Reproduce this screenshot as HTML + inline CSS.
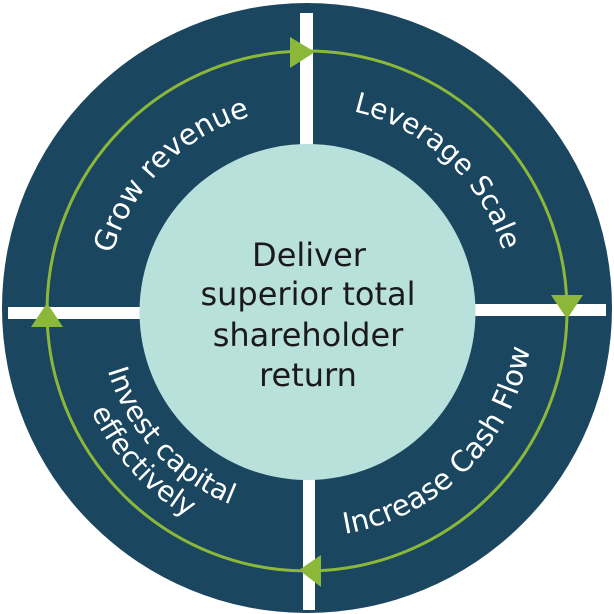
<!DOCTYPE html>
<html><head><meta charset="utf-8"><style>html,body{margin:0;padding:0;background:#fff}svg{display:block}</style></head>
<body>
<svg width="614" height="614" viewBox="0 0 614 614" xmlns="http://www.w3.org/2000/svg">
<defs>
<path id="p1" d="M107.1,275.8 A203,203 0 0 1 271.8,111.1"/>
<path id="p2" d="M335.5,108.0 A205,205 0 0 1 507.5,268.4"/>
<path id="p3" d="M267.8,533.6 A226,226 0 0 0 529.6,271.8"/>
<path id="p4" d="M99,311 A208,208 0 0 0 288.9,518.2"/>
<path id="p5" d="M69,311 A238,238 0 0 0 286.2,548.1"/>
</defs>
<circle cx="307" cy="308" r="305" fill="#1a465f"/>
<rect x="300" y="13" width="13" height="140" fill="#fff"/>
<rect x="303" y="468" width="12" height="142" fill="#fff"/>
<rect x="8" y="307" width="140" height="12" fill="#fff"/>
<rect x="468" y="304" width="138" height="12" fill="#fff"/>
<circle cx="307" cy="311" r="260" fill="none" stroke="#8cb83a" stroke-width="3"/>
<circle cx="307.5" cy="312" r="168" fill="#b8e1dc"/>
<polygon points="290,37 315,52 290,68" fill="#8cb83a"/>
<polygon points="551,295 583,295 567,319" fill="#8cb83a"/>
<polygon points="321,555 299,570 321,587" fill="#8cb83a"/>
<polygon points="31,327 63,327 47,303" fill="#8cb83a"/>
<g font-family="'DejaVu Sans','Liberation Sans',sans-serif" fill="#fff">
<text font-size="29"><textPath href="#p1" startOffset="50%" text-anchor="middle">Grow revenue</textPath></text>
<text font-size="28"><textPath href="#p2" startOffset="50%" text-anchor="middle">Leverage Scale</textPath></text>
<text font-size="29"><textPath href="#p3" startOffset="50%" text-anchor="middle">Increase Cash Flow</textPath></text>
<text font-size="28"><textPath href="#p4" startOffset="50%" text-anchor="middle">Invest capital</textPath></text>
<text font-size="28"><textPath href="#p5" startOffset="50%" text-anchor="middle">effectively</textPath></text>
</g>
<g font-family="'DejaVu Sans','Liberation Sans',sans-serif" font-size="32" fill="#1a1a1a" text-anchor="middle">
<text x="309" y="266">Deliver</text>
<text x="308" y="305">superior total</text>
<text x="308" y="346">shareholder</text>
<text x="308" y="386">return</text>
</g>
</svg>
</body></html>
